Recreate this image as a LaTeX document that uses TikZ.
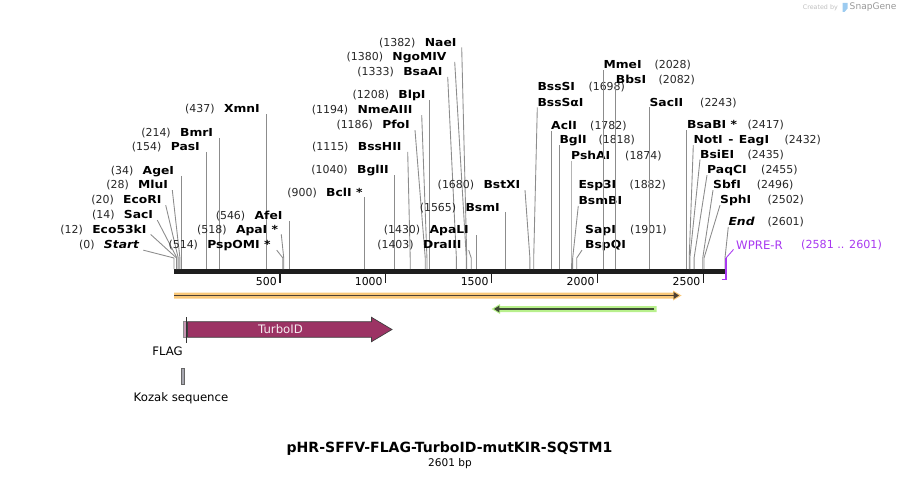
\documentclass[tikz,border=0pt]{standalone}
\usepackage{fontspec}
\setmainfont{DejaVu Sans}
\newfontfamily\enzfont{DejaVu Sans}[FakeStretch=1.12]
\usetikzlibrary{positioning,arrows.meta}
\definecolor{leadgray}{HTML}{8C8C8C}
\definecolor{bbdark}{HTML}{1E1E1E}
\definecolor{orangeband}{HTML}{FAC878}
\definecolor{orangeline}{HTML}{4D4033}
\definecolor{greenband}{HTML}{B8F08C}
\definecolor{greenline}{HTML}{3D4A33}
\definecolor{turbo}{HTML}{9C3364}
\definecolor{flagpink}{HTML}{C796B3}
\definecolor{kozak}{HTML}{A7A7B0}
\definecolor{wpre}{HTML}{A838F0}
\definecolor{logoblue}{HTML}{9CCBF0}
% position of a base pair on the map (in px)
\newcommand{\bpos}[1]{174+0.21184*#1}

\begin{document}
\begin{tikzpicture}[x=0.03cm,y=-0.03cm,
    enz/.style={inner sep=0pt,text height=7.6pt,text depth=0.8pt,
        font=\enzfont\bfseries\fontsize{9.4}{11}\selectfont},
    num/.style={inner sep=0pt,text height=7.6pt,text depth=0.8pt,
        font=\fontsize{9.35}{11}\selectfont,text=black!85},
    leader/.style={draw=leadgray,line width=0.75pt},
    tick/.style={draw=bbdark,line width=1.1pt},
    ticklbl/.style={inner sep=0pt,anchor=east,font=\fontsize{9.3}{11}\selectfont},
    featlbl/.style={inner sep=0pt,font=\fontsize{10}{12}\selectfont}]
    \useasboundingbox (0,0) rectangle (900,479);

    % watermark
    \node[anchor=east,inner sep=0pt,text=black!25,font=\fontsize{5.4}{6}\selectfont] (made) at (838,7.5) {Created by};
    \fill[logoblue] (842.5,3) -- (847.5,3) -- (847.5,8.5) -- (844.5,12) -- (842.5,12) -- cycle;
    \node[anchor=west,inner sep=0pt,text=black!40,font=\fontsize{7.75}{9}\selectfont] (snap) at (849.5,7.5) {SnapGene};

    % backbone
    \draw[bbdark,line width=2.0pt] (174,270.5) -- (725,270.5);
    \draw[bbdark,line width=1.7pt] (174,273.3) -- (725,273.3);
    \draw[tick] ({\bpos{500}},274) -- ({\bpos{500}},283);
    \draw[tick] ({\bpos{1000}},274) -- ({\bpos{1000}},283);
    \draw[tick] ({\bpos{1500}},274) -- ({\bpos{1500}},283);
    \draw[tick] ({\bpos{2000}},274) -- ({\bpos{2000}},283);
    \draw[tick] ({\bpos{2500}},274) -- ({\bpos{2500}},283);
    \node[ticklbl] (t500) at ({\bpos{500}-3},282) {500};
    \node[ticklbl] (t1000) at ({\bpos{1000}-3},282) {1000};
    \node[ticklbl] (t1500) at ({\bpos{1500}-3},282) {1500};
    \node[ticklbl] (t2000) at ({\bpos{2000}-3},282) {2000};
    \node[ticklbl] (t2500) at ({\bpos{2500}-3},282) {2500};

    % left cluster
    \node[enz,anchor=east] (start) at (139.3,245) {\itshape Start};
    \node[num,left=7.6pt of start] (start-n) {(0)};
    \coordinate (s-start) at ({\bpos{0}},258);
    \draw[leader] ([shift={(4,0)}]start.south east) -- (s-start) -- ++(0,11);
    \node[enz,anchor=east] (eco53) at (146.7,229.3) {Eco53kI};
    \node[num,left=7.6pt of eco53] (eco53-n) {(12)};
    \coordinate (s-eco53) at ({\bpos{12}},258);
    \draw[leader] ([shift={(4,0)}]eco53.south east) -- (s-eco53) -- ++(0,11);
    \node[enz,anchor=east] (sac) at (153.3,215) {SacI};
    \node[num,left=7.6pt of sac] (sac-n) {(14)};
    \coordinate (s-sac) at ({\bpos{14}},258);
    \draw[leader] ([shift={(4,0)}]sac.south east) -- (s-sac) -- ++(0,11);
    \node[enz,anchor=east] (ecori) at (161.7,200) {EcoRI};
    \node[num,left=7.6pt of ecori] (ecori-n) {(20)};
    \coordinate (s-ecori) at ({\bpos{20}},258);
    \draw[leader] ([shift={(4,0)}]ecori.south east) -- (s-ecori) -- ++(0,11);
    \node[enz,anchor=east] (mlu) at (168.3,185) {MluI};
    \node[num,left=7.6pt of mlu] (mlu-n) {(28)};
    \coordinate (s-mlu) at ({\bpos{28}},258);
    \draw[leader] ([shift={(4,0)}]mlu.south east) -- (s-mlu) -- ++(0,11);
    \node[enz,anchor=east] (age) at (174.3,170.7) {AgeI};
    \node[num,left=7.6pt of age] (age-n) {(34)};
    \coordinate (s-age) at ({\bpos{34}},258);
    \draw[leader] (age.south -| s-age) -- (s-age) -- ++(0,11);
    \node[enz,anchor=east] (pas) at (200,146.7) {PasI};
    \node[num,left=7.6pt of pas] (pas-n) {(154)};
    \coordinate (s-pas) at ({\bpos{154}},258);
    \draw[leader] (pas.south -| s-pas) -- (s-pas) -- ++(0,11);
    \node[enz,anchor=east] (bmr) at (213.3,132.7) {BmrI};
    \node[num,left=7.6pt of bmr] (bmr-n) {(214)};
    \coordinate (s-bmr) at ({\bpos{214}},258);
    \draw[leader] (bmr.south -| s-bmr) -- (s-bmr) -- ++(0,11);
    \node[enz,anchor=east] (xmn) at (260,109) {XmnI};
    \node[num,left=7.6pt of xmn] (xmn-n) {(437)};
    \coordinate (s-xmn) at ({\bpos{437}},258);
    \draw[leader] (xmn.south -| s-xmn) -- (s-xmn) -- ++(0,11);
    \node[enz,anchor=east] (pspomi) at (270.7,245) {PspOMI *};
    \node[num,left=7.6pt of pspomi] (pspomi-n) {(514)};
    \coordinate (s-pspomi) at ({\bpos{514}},258);
    \draw[leader] ([shift={(6,0)}]pspomi.south east) -- (s-pspomi) -- ++(0,11);
    \node[enz,anchor=east] (apa) at (278.3,229.3) {ApaI *};
    \node[num,left=7.6pt of apa] (apa-n) {(518)};
    \coordinate (s-apa) at ({\bpos{518}},258);
    \draw[leader] ([shift={(3,0)}]apa.south east) -- (s-apa) -- ++(0,11);
    \node[enz,anchor=east] (afe) at (282.7,215.7) {AfeI};
    \node[num,left=7.6pt of afe] (afe-n) {(546)};
    \coordinate (s-afe) at ({\bpos{546}},258);
    \draw[leader] (afe.south -| s-afe) -- (s-afe) -- ++(0,11);

    % middle cluster
    \node[enz,anchor=east] (bcl) at (362.7,192.3) {BclI *};
    \node[num,left=7.6pt of bcl] (bcl-n) {(900)};
    \coordinate (s-bcl) at ({\bpos{900}},258);
    \draw[leader] (bcl.south -| s-bcl) -- (s-bcl) -- ++(0,11);
    \node[enz,anchor=east] (bgl2) at (389,170) {BglII};
    \node[num,left=7.6pt of bgl2] (bgl2-n) {(1040)};
    \coordinate (s-bgl2) at ({\bpos{1040}},258);
    \draw[leader] (bgl2.south -| s-bgl2) -- (s-bgl2) -- ++(0,11);
    \node[enz,anchor=east] (bsshii) at (401.7,146.7) {BssHII};
    \node[num,left=7.6pt of bsshii] (bsshii-n) {(1115)};
    \coordinate (s-bsshii) at ({\bpos{1115}},258);
    \draw[leader] ([shift={(6,0)}]bsshii.south east) -- (s-bsshii) -- ++(0,11);
    \node[enz,anchor=east] (pfo) at (410,125) {PfoI};
    \node[num,left=7.6pt of pfo] (pfo-n) {(1186)};
    \coordinate (s-pfo) at ({\bpos{1186}},258);
    \draw[leader] ([shift={(5,0)}]pfo.south east) -- (s-pfo) -- ++(0,11);
    \node[enz,anchor=east] (nme) at (412.7,110) {NmeAIII};
    \node[num,left=7.6pt of nme] (nme-n) {(1194)};
    \coordinate (s-nme) at ({\bpos{1194}},258);
    \draw[leader] ([shift={(9,0)}]nme.south east) -- (s-nme) -- ++(0,11);
    \node[enz,anchor=east] (blp) at (425.7,95) {BlpI};
    \node[num,left=7.6pt of blp] (blp-n) {(1208)};
    \coordinate (s-blp) at ({\bpos{1208}},258);
    \draw[leader] (blp.south -| s-blp) -- (s-blp) -- ++(0,11);
    \node[enz,anchor=east] (bsaa) at (442.7,71.7) {BsaAI};
    \node[num,left=7.6pt of bsaa] (bsaa-n) {(1333)};
    \coordinate (s-bsaa) at ({\bpos{1333}},258);
    \draw[leader] ([shift={(5,0)}]bsaa.south east) -- (s-bsaa) -- ++(0,11);
    \node[enz,anchor=east] (ngo) at (446.7,56.7) {NgoMIV};
    \node[num,left=7.6pt of ngo] (ngo-n) {(1380)};
    \coordinate (s-ngo) at ({\bpos{1380}},258);
    \draw[leader] ([shift={(8,0)}]ngo.south east) -- (s-ngo) -- ++(0,11);
    \node[enz,anchor=east] (nae) at (456.7,42.3) {NaeI};
    \node[num,left=7.6pt of nae] (nae-n) {(1382)};
    \coordinate (s-nae) at ({\bpos{1382}},258);
    \draw[leader] ([shift={(5,0)}]nae.south east) -- (s-nae) -- ++(0,11);
    \node[enz,anchor=east] (dra) at (461.7,245) {DraIII};
    \node[num,left=7.6pt of dra] (dra-n) {(1403)};
    \coordinate (s-dra) at ({\bpos{1403}},258);
    \draw[leader] ([shift={(7,0)}]dra.south east) -- (s-dra) -- ++(0,11);
    \node[enz,anchor=east] (apal) at (469,230) {ApaLI};
    \node[num,left=7.6pt of apal] (apal-n) {(1430)};
    \coordinate (s-apal) at ({\bpos{1430}},258);
    \draw[leader] (apal.south -| s-apal) -- (s-apal) -- ++(0,11);
    \node[enz,anchor=east] (bsm) at (500,207.3) {BsmI};
    \node[num,left=7.6pt of bsm] (bsm-n) {(1565)};
    \coordinate (s-bsm) at ({\bpos{1565}},258);
    \draw[leader] (bsm.south -| s-bsm) -- (s-bsm) -- ++(0,11);
    \node[enz,anchor=east] (bstx) at (520.5,185) {BstXI};
    \node[num,left=7.6pt of bstx] (bstx-n) {(1680)};
    \coordinate (s-bstx) at ({\bpos{1680}},258);
    \draw[leader] ([shift={(4.5,0)}]bstx.south east) -- (s-bstx) -- ++(0,11);

    % right cluster
    \node[enz,anchor=west] (bsssi) at (537.3,86.7) {BssSI};
    \node[num,anchor=west] (bsssi-n) at (588.3,86.7) {(1698)};
    \node[enz,anchor=west] (bsssa) at (537.3,102.3) {BssSαI};
    \coordinate (s-bsssa) at ({\bpos{1698}},258);
    \draw[leader] (bsssa.south west) -- (s-bsssa) -- ++(0,11);
    \node[enz,anchor=west] (acl) at (551,125.7) {AclI};
    \node[num,anchor=west] (acl-n) at (590,125.7) {(1782)};
    \coordinate (s-acl) at ({\bpos{1782}},258);
    \draw[leader] (acl.south -| s-acl) -- (s-acl) -- ++(0,11);
    \node[enz,anchor=west] (bgl1) at (559.3,140) {BglI};
    \node[num,anchor=west] (bgl1-n) at (598.3,140) {(1818)};
    \coordinate (s-bgl1) at ({\bpos{1818}},258);
    \draw[leader] (bgl1.south -| s-bgl1) -- (s-bgl1) -- ++(0,11);
    \node[enz,anchor=west] (psha) at (571,155.7) {PshAI};
    \node[num,anchor=west] (psha-n) at (625,155.7) {(1874)};
    \coordinate (s-psha) at ({\bpos{1874}},258);
    \draw[leader] (psha.south -| s-psha) -- (s-psha) -- ++(0,11);
    \node[enz,anchor=west] (esp3) at (578.3,185) {Esp3I};
    \node[num,anchor=west] (esp3-n) at (629.3,185) {(1882)};
    \node[enz,anchor=west] (bsmb) at (578.3,200.7) {BsmBI};
    \coordinate (s-bsmb) at ({\bpos{1882}},258);
    \draw[leader] (bsmb.south west) -- (s-bsmb) -- ++(0,11);
    \node[enz,anchor=west] (sap) at (585,230) {SapI};
    \node[num,anchor=west] (sap-n) at (630,230) {(1901)};
    \node[enz,anchor=west] (bspq) at (585,245) {BspQI};
    \coordinate (s-bspq) at ({\bpos{1901}},258);
    \draw[leader] ([shift={(-3,0)}]bspq.south west) -- (s-bspq) -- ++(0,11);
    \node[enz,anchor=west] (mme) at (603.3,65) {MmeI};
    \node[num,anchor=west] (mme-n) at (654.3,65) {(2028)};
    \coordinate (s-mme) at ({\bpos{2028}},258);
    \draw[leader] (mme.south -| s-mme) -- (s-mme) -- ++(0,11);
    \node[enz,anchor=west] (bbs) at (615.7,80) {BbsI};
    \node[num,anchor=west] (bbs-n) at (658.3,80) {(2082)};
    \coordinate (s-bbs) at ({\bpos{2082}},258);
    \draw[leader] (bbs.south -| s-bbs) -- (s-bbs) -- ++(0,11);
    \node[enz,anchor=west] (sac2) at (649.3,102.3) {SacII};
    \node[num,anchor=west] (sac2-n) at (700,102.3) {(2243)};
    \coordinate (s-sac2) at ({\bpos{2243}},258);
    \draw[leader] (sac2.south -| s-sac2) -- (s-sac2) -- ++(0,11);
    \node[enz,anchor=west] (bsab) at (687,125) {BsaBI *};
    \node[num,anchor=west] (bsab-n) at (747.3,125) {(2417)};
    \coordinate (s-bsab) at ({\bpos{2417}},258);
    \draw[leader] (bsab.south -| s-bsab) -- (s-bsab) -- ++(0,11);
    \node[enz,anchor=west] (noti) at (693.3,140) {NotI\enspace-\enspace EagI};
    \node[num,anchor=west] (noti-n) at (784.3,140) {(2432)};
    \coordinate (s-noti) at ({\bpos{2432}},258);
    \draw[leader] (noti.south west) -- (s-noti) -- ++(0,11);
    \node[enz,anchor=west] (bsie) at (700,154.3) {BsiEI};
    \node[num,anchor=west] (bsie-n) at (747.3,154.3) {(2435)};
    \coordinate (s-bsie) at ({\bpos{2435}},258);
    \draw[leader] (bsie.south west) -- (s-bsie) -- ++(0,11);
    \node[enz,anchor=west] (paq) at (707,170) {PaqCI};
    \node[num,anchor=west] (paq-n) at (761,170) {(2455)};
    \coordinate (s-paq) at ({\bpos{2455}},258);
    \draw[leader] (paq.south west) -- (s-paq) -- ++(0,11);
    \node[enz,anchor=west] (sbf) at (713,185) {SbfI};
    \node[num,anchor=west] (sbf-n) at (756.7,185) {(2496)};
    \coordinate (s-sbf) at ({\bpos{2496}},258);
    \draw[leader] (sbf.south west) -- (s-sbf) -- ++(0,11);
    \node[enz,anchor=west] (sph) at (720,200) {SphI};
    \node[num,anchor=west] (sph-n) at (767.3,200) {(2502)};
    \coordinate (s-sph) at ({\bpos{2502}},258);
    \draw[leader] (sph.south west) -- (s-sph) -- ++(0,11);
    \node[enz,anchor=west] (stop) at (728.3,221.7) {\itshape End};
    \node[num,anchor=west] (stop-n) at (767.3,221.7) {(2601)};
    \coordinate (s-stop) at ({\bpos{2601}},258);
    \draw[leader] (stop.south west) -- (s-stop) -- ++(0,11);

    % WPRE-R primer
    \node[featlbl,anchor=west,text=wpre] (wpre) at (736,245) {WPRE-R};
    \node[inner sep=0pt,anchor=west,text=wpre,font=\fontsize{9.5}{11}\selectfont] (wpre-n) at (801,245) {(2581 .. 2601)};
    \coordinate (s-wpre) at (726,258);
    \draw[wpre,line width=1.5pt] (721.5,279.5) -| (s-wpre);
    \draw[wpre,line width=0.75pt] (s-wpre) -- ([shift={(-2.5,0)}]wpre.south west);

    % features
    \fill[orangeband] (174,292.5) -- (673,292.5) -- (673,290.5) -- (681.5,295.5)
        -- (673,300.5) -- (673,298.5) -- (174,298.5) -- cycle;
    \draw[orangeline,line width=1.5pt,-{Triangle[length=4.5pt 0 0,width=5.5pt 0 0]}] (174,295.5) -- (679,295.5);
    \fill[greenband] (656.5,306) -- (500,306) -- (500,304) -- (491.5,309)
        -- (500,314) -- (500,312) -- (656.5,312) -- cycle;
    \draw[greenline,line width=1.5pt,-{Triangle[length=4.5pt 0 0,width=5.5pt 0 0]}] (654,309) -- (494,309);

    \draw[fill=turbo,draw=black!75,line width=0.6pt] (187.5,321.7) -- (371.5,321.7) -- (371.5,317.3)
        -- (392,329.5) -- (371.5,341.7) -- (371.5,337.3) -- (187.5,337.3) -- cycle;
    \node[featlbl,text=white!90!turbo] (turbo-lbl) at (280.5,329.5) {TurboID};
    \filldraw[fill=flagpink,draw=black!45,line width=0.4pt] (183.3,321.7) rectangle (186.3,337.3);
    \draw[black!80,line width=0.6pt] (186.8,317.3) -- (186.8,343.3);
    \node[featlbl] (flag-lbl) at (167.5,351) {FLAG};
    \filldraw[fill=kozak,draw=black!60,line width=0.5pt] (181.3,368) rectangle (183.8,384);
    \node[featlbl] (kozak-lbl) at (181,398) {Kozak sequence};

    % title
    \node[inner sep=0pt,font=\bfseries\fontsize{12}{14}\selectfont] (title) at (449.5,448.5) {pHR-SFFV-FLAG-TurboID-mutKIR-SQSTM1};
    \node[inner sep=0pt,font=\fontsize{9}{11}\selectfont] (size) at (450,463.5) {2601 bp};
\end{tikzpicture}
\end{document}
